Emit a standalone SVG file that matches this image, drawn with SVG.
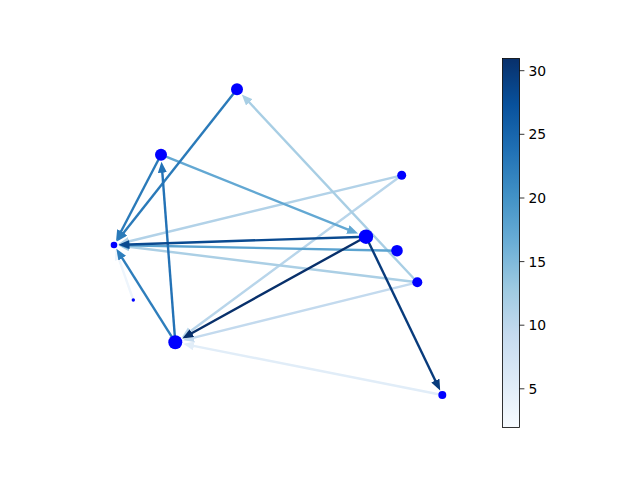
<svg xmlns="http://www.w3.org/2000/svg" width="640" height="480" viewBox="0 0 640 480">
<style>
.e{fill:none;stroke-width:2.4}
.n{fill:#0000ff}
.t{font-family:"DejaVu Sans",sans-serif;font-size:13.9px;fill:#000}
.tk{stroke:#000;stroke-width:0.8}
</style>
<defs>
<linearGradient id="cb" x1="0" y1="1" x2="0" y2="0">
<stop offset="0" stop-color="#f7fbff"/>
<stop offset="0.125" stop-color="#deebf7"/>
<stop offset="0.25" stop-color="#c6dbef"/>
<stop offset="0.375" stop-color="#9ecae1"/>
<stop offset="0.5" stop-color="#6baed6"/>
<stop offset="0.625" stop-color="#4292c6"/>
<stop offset="0.75" stop-color="#2171b5"/>
<stop offset="0.875" stop-color="#08519c"/>
<stop offset="1" stop-color="#08306b"/>
</linearGradient>
<marker id="m1" markerUnits="userSpaceOnUse" markerWidth="12" markerHeight="10" refX="7" refY="4.5" orient="auto"><path d="M0,0 L11,4.5 L0,9 z" fill="#2a7ab9"/></marker>
<marker id="m3" markerUnits="userSpaceOnUse" markerWidth="12" markerHeight="10" refX="7" refY="4.5" orient="auto"><path d="M0,0 L11,4.5 L0,9 z" fill="#63a8d3"/></marker>
<marker id="m4" markerUnits="userSpaceOnUse" markerWidth="12" markerHeight="10" refX="7" refY="4.5" orient="auto"><path d="M0,0 L11,4.5 L0,9 z" fill="#b2d2e8"/></marker>
<marker id="m5" markerUnits="userSpaceOnUse" markerWidth="12" markerHeight="10" refX="7" refY="4.5" orient="auto"><path d="M0,0 L11,4.5 L0,9 z" fill="#b8d5ea"/></marker>
<marker id="m6" markerUnits="userSpaceOnUse" markerWidth="12" markerHeight="10" refX="7" refY="4.5" orient="auto"><path d="M0,0 L11,4.5 L0,9 z" fill="#0a4a90"/></marker>
<marker id="m7" markerUnits="userSpaceOnUse" markerWidth="12" markerHeight="10" refX="7" refY="4.5" orient="auto"><path d="M0,0 L11,4.5 L0,9 z" fill="#08306b"/></marker>
<marker id="m8" markerUnits="userSpaceOnUse" markerWidth="12" markerHeight="10" refX="7" refY="4.5" orient="auto"><path d="M0,0 L11,4.5 L0,9 z" fill="#083b7c"/></marker>
<marker id="m9" markerUnits="userSpaceOnUse" markerWidth="12" markerHeight="10" refX="7" refY="4.5" orient="auto"><path d="M0,0 L11,4.5 L0,9 z" fill="#5ba3d0"/></marker>
<marker id="m10" markerUnits="userSpaceOnUse" markerWidth="12" markerHeight="10" refX="7" refY="4.5" orient="auto"><path d="M0,0 L11,4.5 L0,9 z" fill="#abcfe5"/></marker>
<marker id="m11" markerUnits="userSpaceOnUse" markerWidth="12" markerHeight="10" refX="7" refY="4.5" orient="auto"><path d="M0,0 L11,4.5 L0,9 z" fill="#a8cee4"/></marker>
<marker id="m12" markerUnits="userSpaceOnUse" markerWidth="12" markerHeight="10" refX="7" refY="4.5" orient="auto"><path d="M0,0 L11,4.5 L0,9 z" fill="#c3daee"/></marker>
<marker id="m13" markerUnits="userSpaceOnUse" markerWidth="12" markerHeight="10" refX="7" refY="4.5" orient="auto"><path d="M0,0 L11,4.5 L0,9 z" fill="#2e7ebc"/></marker>
<marker id="m14" markerUnits="userSpaceOnUse" markerWidth="12" markerHeight="10" refX="7" refY="4.5" orient="auto"><path d="M0,0 L11,4.5 L0,9 z" fill="#2372b6"/></marker>
<marker id="m15" markerUnits="userSpaceOnUse" markerWidth="12" markerHeight="10" refX="7" refY="4.5" orient="auto"><path d="M0,0 L11,4.5 L0,9 z" fill="#e1edf8"/></marker>
<marker id="m16" markerUnits="userSpaceOnUse" markerWidth="12" markerHeight="10" refX="7" refY="4.5" orient="auto"><path d="M0,0 L11,4.5 L0,9 z" fill="#eef5fc"/></marker>
</defs>
<rect width="640" height="480" fill="#fff"/>
<g id="edges">
<line class="e" x1="133.3" y1="300" x2="116.8" y2="253" stroke="#eef5fc" marker-end="url(#m16)"/>
<line class="e" x1="442.3" y1="395" x2="187.1" y2="344.6" stroke="#e1edf8" marker-end="url(#m15)"/>
<line class="e" x1="417.3" y1="282.3" x2="186.9" y2="339.4" stroke="#c3daee" marker-end="url(#m12)"/>
<line class="e" x1="401.7" y1="175.3" x2="185" y2="335.2" stroke="#b8d5ea" marker-end="url(#m5)"/>
<line class="e" x1="401.7" y1="175.3" x2="122.3" y2="243" stroke="#b2d2e8" marker-end="url(#m4)"/>
<line class="e" x1="417.3" y1="282.3" x2="122.4" y2="246" stroke="#abcfe5" marker-end="url(#m10)"/>
<line class="e" x1="417.3" y1="282.3" x2="244.5" y2="97.3" stroke="#a8cee4" marker-end="url(#m11)"/>
<line class="e" x1="161" y1="154.7" x2="354.4" y2="232.1" stroke="#63a8d3" marker-end="url(#m3)"/>
<line class="e" x1="397" y1="250.7" x2="122.5" y2="245.2" stroke="#5ba3d0" marker-end="url(#m9)"/>
<line class="e" x1="237" y1="89.3" x2="119.3" y2="238.3" stroke="#2a7ab9" marker-end="url(#m1)"/>
<line class="e" x1="161" y1="154.7" x2="117.9" y2="237.5" stroke="#2a7ab9" marker-end="url(#m1)"/>
<line class="e" x1="175.3" y1="342.3" x2="118.5" y2="252.2" stroke="#2e7ebc" marker-end="url(#m13)"/>
<line class="e" x1="175.3" y1="342.3" x2="161.8" y2="165.7" stroke="#2372b6" marker-end="url(#m14)"/>
<line class="e" x1="366" y1="236.7" x2="122.5" y2="244.7" stroke="#0a4a90" marker-end="url(#m6)"/>
<line class="e" x1="366" y1="236.7" x2="438.4" y2="386.9" stroke="#083b7c" marker-end="url(#m8)"/>
<line class="e" x1="366" y1="236.7" x2="185.8" y2="336.5" stroke="#08306b" marker-end="url(#m7)"/>
</g>
<g id="node-A"><circle class="n" cx="237" cy="89.3" r="6"/></g>
<g id="node-B"><circle class="n" cx="161" cy="154.7" r="6"/></g>
<g id="node-C"><circle class="n" cx="401.7" cy="175.3" r="4.5"/></g>
<g id="node-D"><circle class="n" cx="114" cy="245" r="3.3"/></g>
<g id="node-E"><circle class="n" cx="366" cy="236.7" r="7.2"/></g>
<g id="node-F"><circle class="n" cx="397" cy="250.7" r="5.8"/></g>
<g id="node-G"><circle class="n" cx="417.3" cy="282.3" r="5"/></g>
<g id="node-H"><circle class="n" cx="133.3" cy="300" r="1.7"/></g>
<g id="node-I"><circle class="n" cx="175.3" cy="342.3" r="7"/></g>
<g id="node-J"><circle class="n" cx="442.3" cy="395" r="4"/></g>
<g id="colorbar">
<rect x="502.5" y="58.5" width="17" height="369" fill="url(#cb)" stroke="#000" stroke-width="0.8"/>
<line class="tk" x1="519.5" y1="70.7" x2="524.4" y2="70.7"/>
<line class="tk" x1="519.5" y1="134.3" x2="524.4" y2="134.3"/>
<line class="tk" x1="519.5" y1="198" x2="524.4" y2="198"/>
<line class="tk" x1="519.5" y1="261.6" x2="524.4" y2="261.6"/>
<line class="tk" x1="519.5" y1="325.2" x2="524.4" y2="325.2"/>
<line class="tk" x1="519.5" y1="388.8" x2="524.4" y2="388.8"/>
<text class="t" x="528.5" y="75.7">30</text>
<text class="t" x="528.5" y="139.3">25</text>
<text class="t" x="528.5" y="203">20</text>
<text class="t" x="528.5" y="266.6">15</text>
<text class="t" x="528.5" y="330.2">10</text>
<text class="t" x="528.5" y="393.8">5</text>
</g>
</svg>
